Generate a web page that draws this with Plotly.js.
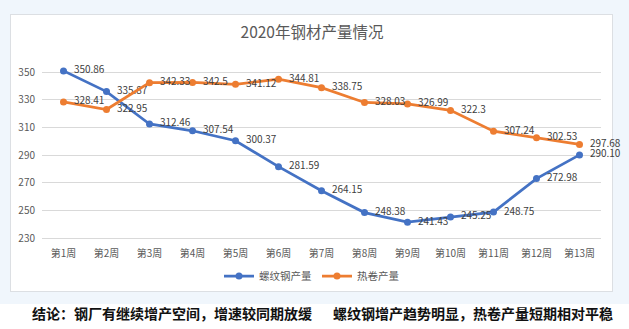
<!DOCTYPE html>
<html>
<head>
<meta charset="utf-8">
<script src="https://cdn.plot.ly/plotly-3.0.1.min.js"></script>
<style>
  html, body { margin:0; padding:0; width:629px; height:329px; overflow:hidden; background:#ffffff; }
  #bgband { position:absolute; left:0; top:0; width:629px; height:304px; background:#f0f6fc; }
  #panel { position:absolute; left:10px; top:14px; width:601px; height:276px; background:#ffffff; border:1px solid #dcdfe3; }
  #chart { position:absolute; left:0; top:0; width:629px; height:329px; }
</style>
</head>
<body>
<div id="bgband"></div>
<div id="panel"></div>
<div id="chart"></div>
<script>
const weeks = ["第1周","第2周","第3周","第4周","第5周","第6周","第7周","第8周","第9周","第10周","第11周","第12周","第13周"];
const rebar = [350.86, 335.87, 312.46, 307.54, 300.37, 281.59, 264.15, 248.38, 241.43, 245.25, 248.75, 272.98, 290.10];
const rebarLabels = ["350.86","335.87","312.46","307.54","300.37","281.59","264.15","248.38","241.43","245.25","248.75","272.98","290.10"];
const hotCoil = [328.41, 322.95, 342.33, 342.5, 341.12, 344.81, 338.75, 328.03, 326.99, 322.3, 307.24, 302.53, 297.68];
const hotCoilLabels = ["328.41","322.95","342.33","342.5","341.12","344.81","338.75","328.03","326.99","322.3","307.24","302.53","297.68"];
const seriesNames = ["螺纹钢产量", "热卷产量"];
const yTicks = [230, 250, 270, 290, 310, 330, 350];
const chartTitle = "2020年钢材产量情况";
const conclusionA = "结论：钢厂有继续增产空间，增速较同期放缓";
const conclusionB = "螺纹钢增产趋势明显，热卷产量短期相对平稳";

const FONT = '"Noto Sans CJK SC", "Noto Sans", sans-serif';
const W = 629, H = 329, L = 42, R = 28, T = 70, B = 91;
const pw = W - L - R, ph = H - T - B;
function px2x(px){ return (px - L) / pw; }
function px2y(py){ return (H - B - py) / ph; }

const traces = [
  { x: weeks, y: rebar, name: seriesNames[0], type: 'scatter', mode: 'lines+markers+text',
    line: { color: '#4472C4', width: 2.75 }, marker: { color: '#4472C4', size: 7 },
    text: rebarLabels, texttemplate: '\u2002%{text}', textposition: 'middle right', cliponaxis: false,
    textfont: { family: FONT, size: 10, color: '#404040' }, hoverinfo: 'x+y' },
  { x: weeks, y: hotCoil, name: seriesNames[1], type: 'scatter', mode: 'lines+markers+text',
    line: { color: '#ED7D31', width: 2.75 }, marker: { color: '#ED7D31', size: 7 },
    text: hotCoilLabels, texttemplate: '\u2002%{text}', textposition: 'middle right', cliponaxis: false,
    textfont: { family: FONT, size: 10, color: '#404040' }, hoverinfo: 'x+y' }
];

const layout = {
  width: W, height: H,
  margin: { l: L, r: R, t: T, b: B, pad: 0 },
  paper_bgcolor: 'rgba(0,0,0,0)', plot_bgcolor: 'rgba(0,0,0,0)',
  font: { family: FONT, size: 10, color: '#595959' },
  title: { text: chartTitle, font: { family: FONT, size: 15.5, color: '#595959' },
           xref: 'container', x: 312 / W, xanchor: 'center',
           yref: 'container', y: 1 - 33 / H, yanchor: 'middle' },
  xaxis: { type: 'category', range: [-0.5, 12.5], showgrid: false, zeroline: false,
           showline: true, linecolor: '#d9d9d9', linewidth: 1, ticks: '',
           ticklabelstandoff: 6, tickfont: { family: FONT, size: 10, color: '#595959' }, fixedrange: true },
  yaxis: { range: [230, 351.5], tickvals: yTicks, showgrid: true, gridcolor: '#d9d9d9', gridwidth: 1,
           zeroline: false, showline: false, ticks: '', ticklabelstandoff: 6,
           tickfont: { family: FONT, size: 10, color: '#595959' }, fixedrange: true },
  showlegend: true,
  legend: { orientation: 'h', xref: 'container', x: 312 / W, xanchor: 'center',
            yref: 'container', y: 1 - 276 / H, yanchor: 'middle',
            font: { family: FONT, size: 10.5, color: '#595959' }, itemwidth: 30,
            bgcolor: 'rgba(0,0,0,0)' },
  annotations: [
    { text: '<b>' + conclusionA + '</b>', xref: 'paper', yref: 'paper', x: px2x(30), y: px2y(313),
      xanchor: 'left', yanchor: 'middle', showarrow: false,
      font: { family: FONT, size: 14, color: '#111111' } },
    { text: '<b>' + conclusionB + '</b>', xref: 'paper', yref: 'paper', x: px2x(331), y: px2y(313),
      xanchor: 'left', yanchor: 'middle', showarrow: false,
      font: { family: FONT, size: 14, color: '#111111' } }
  ]
};

Plotly.newPlot('chart', traces, layout, { displayModeBar: false, staticPlot: true });
</script>
</body>
</html>
